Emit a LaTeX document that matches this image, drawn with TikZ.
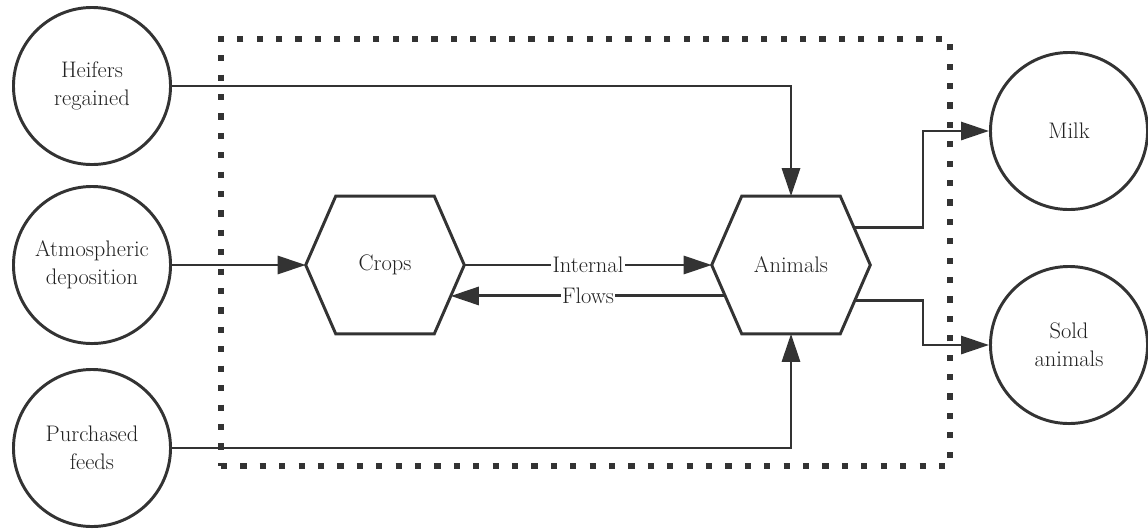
\documentclass[tikz,border=0pt]{standalone}
\usepackage{tikz}
\usetikzlibrary{positioning, arrows.meta, calc}
\definecolor{ink}{HTML}{333333}
\definecolor{word}{HTML}{222222}

\begin{document}
\begin{tikzpicture}[
    x=0.025cm, y=-0.025cm,
    font=\fontsize{16pt}{20pt}\selectfont,
    source/.style={circle, draw=ink, line width=2.1pt, minimum size=3.925cm, align=center, inner sep=0pt, text=word},
    hexbox/.style={rectangle, minimum width=3.95cm, minimum height=3.425cm, inner sep=0pt, text=word},
    hexline/.style={draw=ink, line width=2.1pt, line join=miter},
    flow/.style={draw=ink, line width=2.1pt, -{Triangle[length=0.7cm, width=0.45cm]}},
    fence/.style={draw=ink, line width=4.4pt, dash pattern=on 4.4pt off 9.4pt, minimum width=18.225cm, minimum height=10.675cm},
    flowlabel/.style={fill=white, inner sep=1pt, text=word}
]
\useasboundingbox (0,0) rectangle (1148,528);

% Farm boundary
\node[fence] (farm) at (585.5,252.5) {};

% Inputs
\node[source] (heifers) at (92,86) {Heifers\\regained};
\node[source] (atmo) at (92,265) {Atmospheric\\deposition};
\node[source] (purch) at (92,448) {Purchased\\feeds};

% Farm components
\node[hexbox] (crops) at (385,265) {Crops};
\node[hexbox] (animals) at (791,265) {Animals};
\foreach \h in {crops, animals}
  \draw[hexline] (\h.west) -- ([xshift=0.75cm]\h.north west) -- ([xshift=-0.75cm]\h.north east)
    -- (\h.east) -- ([xshift=-0.75cm]\h.south east) -- ([xshift=0.75cm]\h.south west) -- cycle;

% Outputs
\node[source] (milk) at (1069,131) {Milk};
\node[source] (sold) at (1069,345) {Sold\\animals};

% Points on the slanted sides
\coordinate (an-sw) at ([xshift=0.75cm]animals.south west);
\coordinate (an-ne) at ([xshift=-0.75cm]animals.north east);
\coordinate (an-se) at ([xshift=-0.75cm]animals.south east);
\coordinate (cr-se) at ([xshift=-0.75cm]crops.south east);
\coordinate (flowsout) at ($(animals.west)!0.45!(an-sw)$);
\coordinate (flowsin) at ($(crops.east)!0.45!(cr-se)$);
\coordinate (milkout) at ($(animals.east)!0.54!(an-ne)$);
\coordinate (soldout) at ($(animals.east)!0.51!(an-se)$);
\coordinate (outlet) at (923,0);

% Flows
\draw[flow] (heifers) -| (animals);
\draw[flow] (atmo) -- (crops);
\draw[flow] (purch) -| (animals);
\draw[flow] (crops) -- node[flowlabel] {Internal} (animals);
\draw[flow] (flowsout) -- node[flowlabel] {Flows} (flowsin);
\draw[flow] (milkout) -- (milkout -| outlet) |- (milk);
\draw[flow] (soldout) -- (soldout -| outlet) |- (sold);

\end{tikzpicture}
\end{document}
